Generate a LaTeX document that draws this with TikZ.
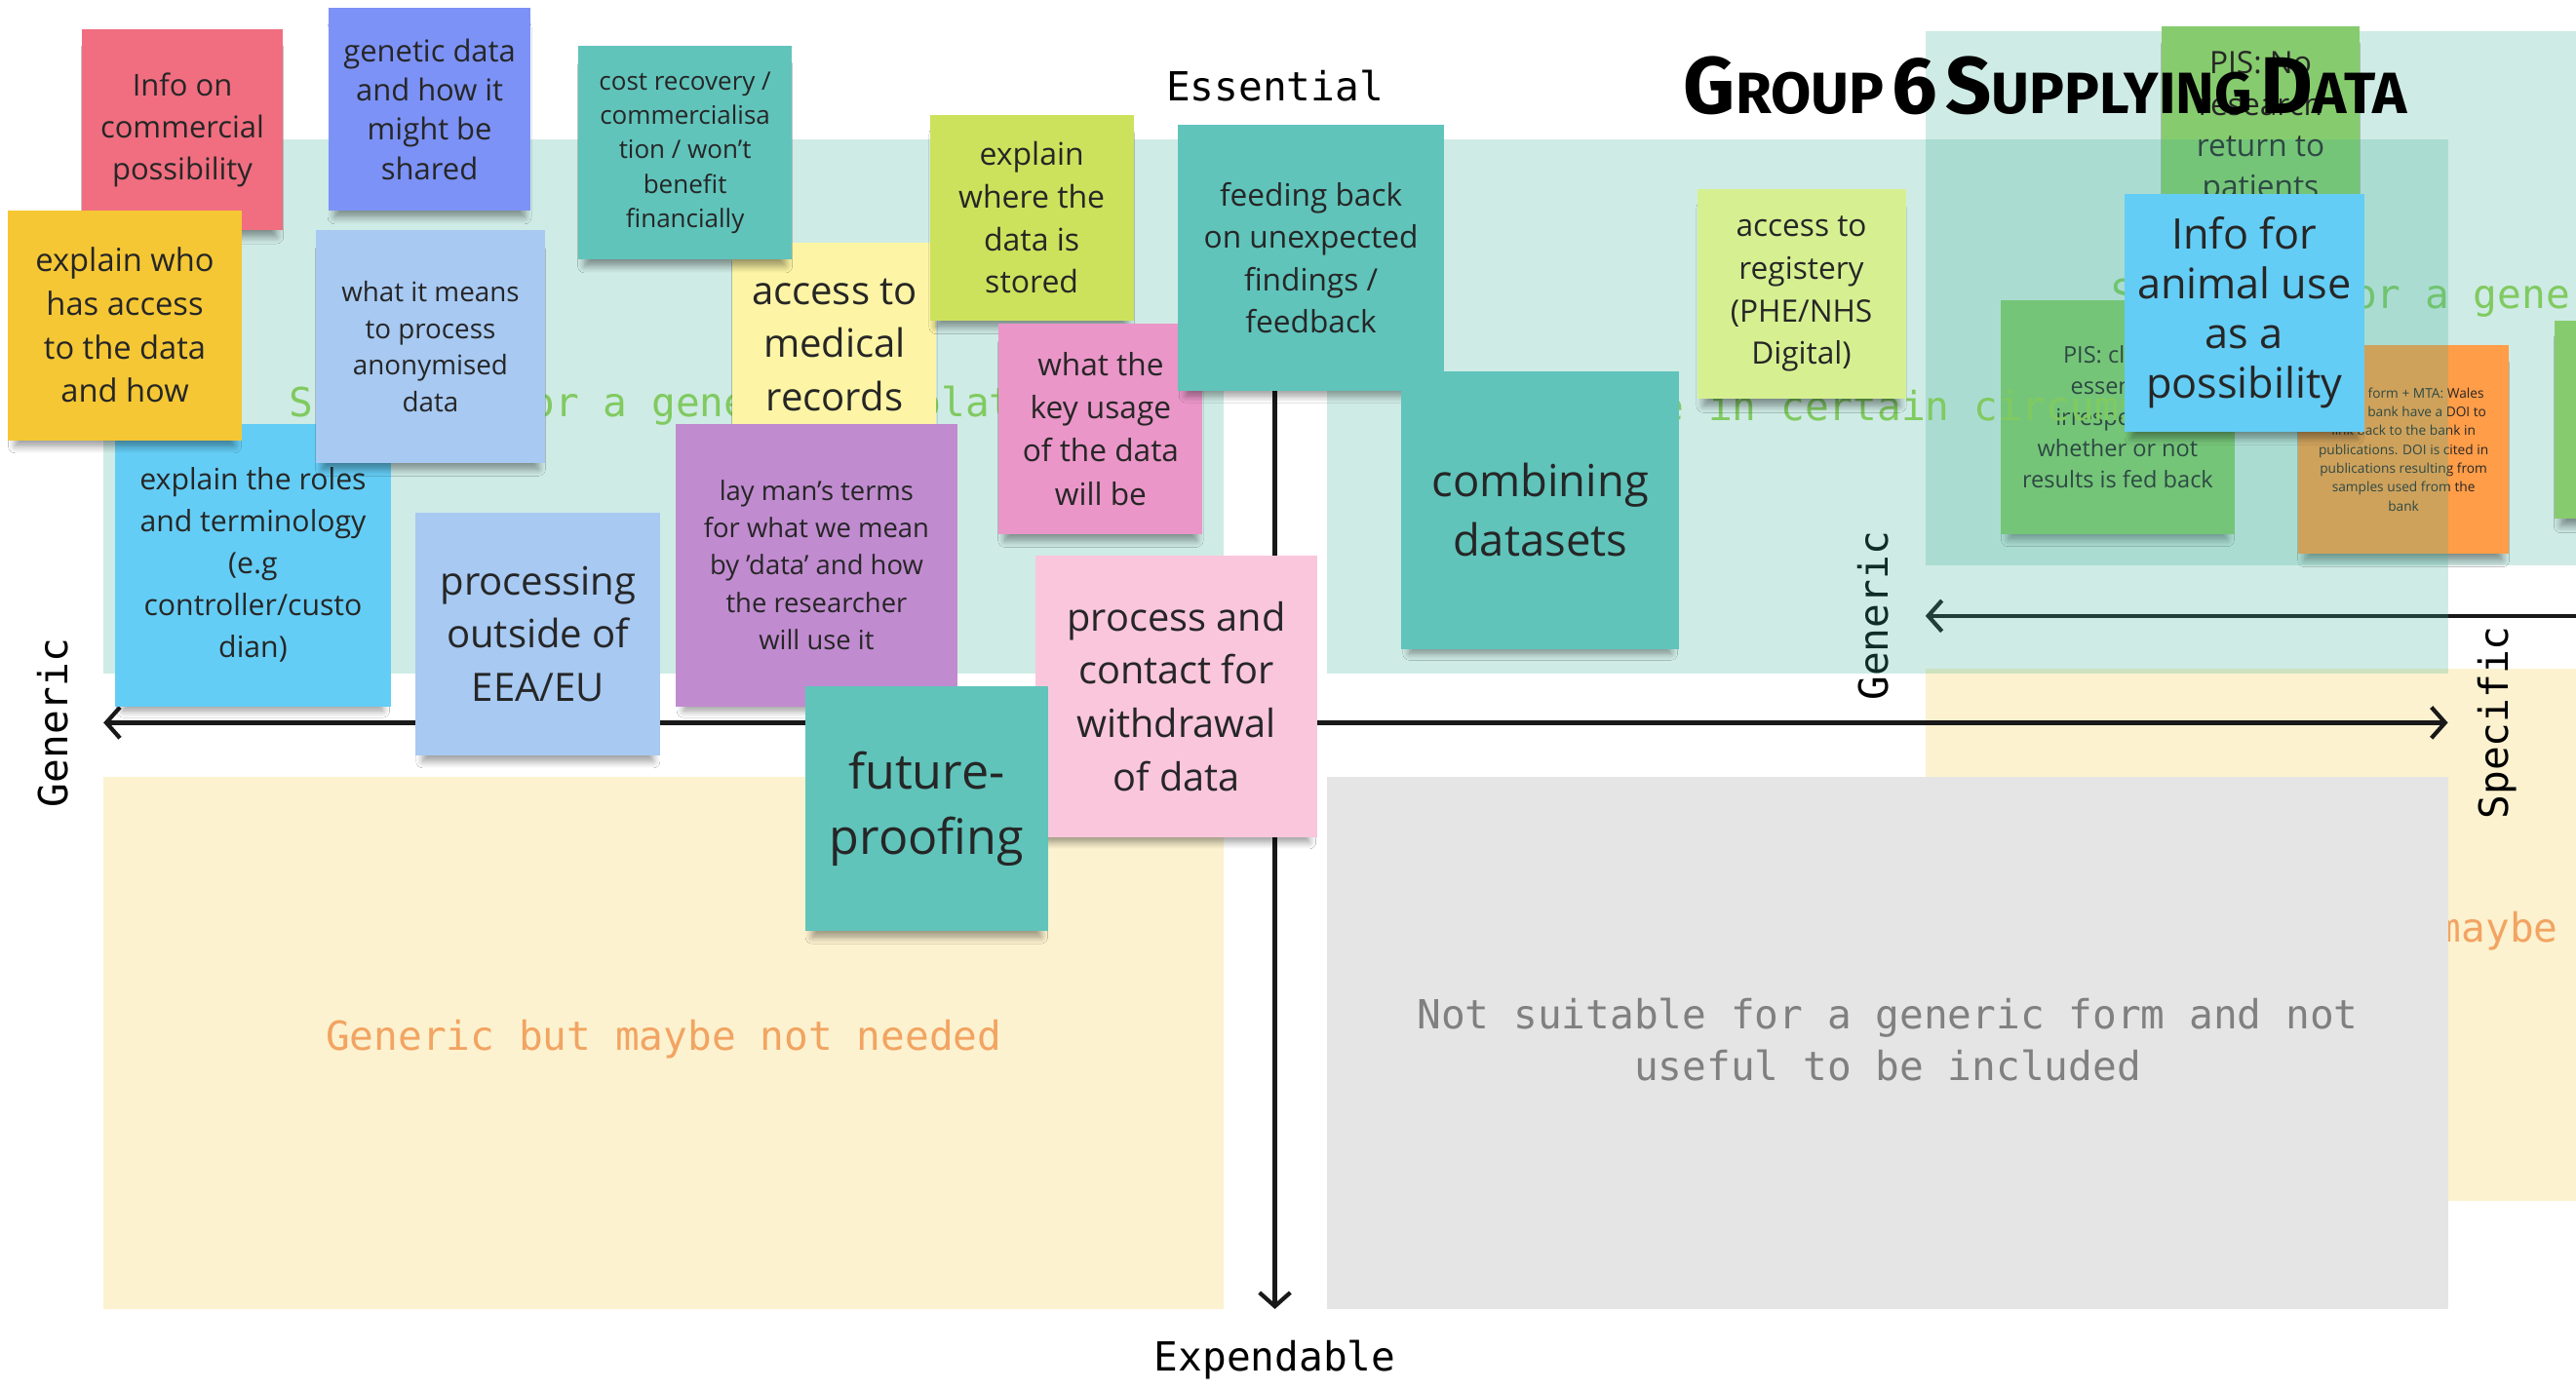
\documentclass[tikz,border=0pt]{standalone}
\usepackage{fontspec}
\setmainfont{Open Sans}
\newfontfamily\monofont{DejaVu Sans Mono}
\newfontfamily\titlefont{Fira Sans}
\usetikzlibrary{arrows.meta,shadows.blur}

\definecolor{quadteal}{RGB}{67,179,155}
\definecolor{quadyellow}{RGB}{252,242,207}
\definecolor{quadgray}{RGB}{229,229,229}
\definecolor{zonegreen}{RGB}{128,202,96}
\definecolor{zoneorange}{RGB}{242,164,98}
\definecolor{zonegray}{RGB}{128,128,128}
\definecolor{notetext}{RGB}{38,38,38}
\definecolor{notered}{RGB}{240,110,128}
\definecolor{noteviolet}{RGB}{124,146,246}
\definecolor{noteteal}{RGB}{96,196,187}
\definecolor{noteyellow}{RGB}{245,199,52}
\definecolor{notesky}{RGB}{167,201,242}
\definecolor{notecream}{RGB}{253,245,165}
\definecolor{notelime}{RGB}{205,226,92}
\definecolor{notepink}{RGB}{234,150,200}
\definecolor{notecyan}{RGB}{100,205,245}
\definecolor{notepurple}{RGB}{193,139,208}
\definecolor{notemint}{RGB}{214,240,145}
\definecolor{noteblush}{RGB}{250,198,220}
\definecolor{notegreen}{RGB}{134,204,110}
\definecolor{noteorange}{RGB}{255,157,72}

\def\px{0.4794pt}

\tikzset{
  note/.style={fill=#1, align=center, inner sep=0pt, text=notetext,
    blur shadow={shadow xshift=0pt, shadow yshift=-4pt, shadow scale=0.94,
      shadow blur steps=8, shadow opacity=40}},
  box/.style 2 args={minimum width=#1*\px, minimum height=#2*\px},
  fsize/.style 2 args={font=\fontsize{#1}{#2}\selectfont},
  quad/.style={fill=quadteal, fill opacity=0.25},
  zone/.style={font=\monofont\fontsize{11.7}{15.3}\selectfont, align=center},
  axislabel/.style={font=\monofont\fontsize{11.7}{14}\selectfont, text=black},
  axis/.style={line width=1.2pt, draw=black!90,
    {Straight Barb[length=4pt,width=9pt]}-{Straight Barb[length=4pt,width=9pt]}},
}

\begin{document}
\begin{tikzpicture}[x=0.4794pt, y=-0.4794pt]
  \useasboundingbox (0,0) rectangle (1568,846);
  \clip (0,0) rectangle (1568,846);
  \fill[white] (0,0) rectangle (1568,846);

  % board behind, shifted
  \fill[quad] (1172,19) rectangle (1854,344);
  \fill[quadyellow] (1172,407) rectangle (1854,731);
  \node[zone, text=zonegreen] (tmplB) at (1513,181) {Suitable for a generic template};
  \node[zone, text=zoneorange] (maybeB) at (1513,567) {Generic but maybe not needed};
  \coordinate (genB) at (1172,375);
  \coordinate (specB) at (2599,375);
  \draw[axis] (genB) -- (specB);
  \node[axislabel, rotate=90] (genlabB) at (1140,375) {Generic};

  \node[note=notegreen, box={120}{124}, fsize={9}{12}] (pisno) at (1376,78)
    {PIS: No\\research\\return to\\patients};
  \node[note=notegreen, box={142}{142}, fsize={6.7}{9.1}] (piscla) at (1289,254)
    {PIS: clarify\\essential\\irrespective\\whether or not\\results is fed back};
  \node[note=noteorange, box={128}{127}, fsize={3.9}{5.5}] (bank) at (1463,273.5)
    {Access form + MTA: Wales\\Cancer bank have a DOI to\\link back to the bank in\\publications. DOI is cited in\\publications resulting from\\samples used from the\\bank};
  \node[note=notegreen, box={122}{121}] (edge) at (1616,255.5) {};

  % main board
  \fill[quad] (63,85) rectangle (745,410);
  \fill[quad] (808,85) rectangle (1490,410);
  \fill[quadyellow] (63,473) rectangle (745,797);
  \fill[quadgray] (808,473) rectangle (1490,797);
  \node[zone, text=zonegreen] (tmplA) at (404,247) {Suitable for a generic template};
  \node[zone, text=zonegreen] (circA) at (1150,247) {Suitable in certain circumstances};
  \node[zone, text=zoneorange] (maybeA) at (404,633) {Generic but maybe not needed};
  \node[zone, text=zonegray] (unsuit) at (1149,633)
    {Not suitable for a generic form and not\\useful to be included};

  \coordinate (gen) at (63,440);
  \coordinate (spec) at (1490,440);
  \coordinate (ess) at (776,78);
  \coordinate (expd) at (776,797);
  \draw[axis] (gen) -- (spec);
  \draw[axis] (ess) -- (expd);
  \node[axislabel] (esslab) at (776,52) {Essential};
  \node[axislabel] (explab) at (776,828) {Expendable};
  \node[axislabel, rotate=90] (genlab) at (32,440) {Generic};
  \node[axislabel, rotate=90] (speclab) at (1520,440) {Specific};

  \node[note=notered, box={122}{122}, fsize={8.8}{12.2}] (commercial) at (111,79)
    {Info on\\commercial\\possibility};
  \node[note=noteviolet, box={123}{123}, fsize={8.8}{11.5}] (genetic) at (261.5,66.5)
    {genetic data\\and how it\\might be\\shared};
  \node[note=notecyan, box={168}{172}, fsize={8.6}{12.2}] (roles) at (154,344)
    {explain the roles\\and terminology\\(e.g\\controller/custo\\dian)};
  \node[note=noteyellow, box={142}{140}, fsize={9.3}{12.7}] (who) at (76,198)
    {explain who\\has access\\to the data\\and how};
  \node[note=notesky, box={140}{142}, fsize={7.9}{10.7}] (anonymised) at (262,211)
    {what it means\\to process\\anonymised\\data};
  \node[note=notecream, box={124}{124}, fsize={11.4}{15.5}] (medical) at (508,210)
    {access to\\medical\\records};
  \node[note=noteteal, box={130}{130}, fsize={7.4}{10}] (cost) at (417,93)
    {cost recovery /\\commercialisa\\tion / won't\\benefit\\financially};
  \node[note=notelime, box={124}{125}, fsize={9.1}{12.4}] (stored) at (628,132.5)
    {explain\\where the\\data is\\stored};
  \node[note=notepink, box={124}{128}, fsize={9}{12.6}] (usage) at (670,261)
    {what the\\key usage\\of the data\\will be};
  \node[note=noteteal, box={162}{162}, fsize={9}{12.4}] (feeding) at (798,157)
    {feeding back\\on unexpected\\findings /\\feedback};
  \node[note=notepurple, box={172}{172}, fsize={7.8}{10.9}] (layman) at (497,344)
    {lay man's terms\\for what we mean\\by 'data' and how\\the researcher\\will use it};
  \node[note=notesky, box={149}{148}, fsize={11.4}{15.5}] (eea) at (327.5,386)
    {processing\\outside of\\EEA/EU};
  \node[note=noteblush, box={172}{172}, fsize={11.3}{15.6}] (withdrawal) at (716,424)
    {process and\\contact for\\withdrawal\\of data};
  \node[note=noteteal, box={148}{149}, fsize={14.3}{19.1}] (future) at (564,492.5)
    {future-\\proofing};
  \node[note=noteteal, box={169}{169}, fsize={12.9}{17.2}] (combining) at (937.5,310.5)
    {combining\\datasets};
  \node[note=notemint, box={127}{128}, fsize={9}{12.4}] (registery) at (1096.5,179)
    {access to\\registery\\(PHE/NHS\\Digital)};
  \node[note=notecyan, box={146}{145}, fsize={12.3}{14.5}] (animal) at (1366,190.5)
    {Info for\\animal use\\as a\\possibility};

  \node[font=\titlefont\bfseries, text=black] (title) at (1245,52)
    {{\fontsize{23.5}{23.5}\selectfont G}{\fontsize{17}{17}\selectfont ROUP}
     {\fontsize{23.5}{23.5}\selectfont 6}
     {\fontsize{23.5}{23.5}\selectfont S}{\fontsize{17}{17}\selectfont UPPLYING}
     {\fontsize{23.5}{23.5}\selectfont D}{\fontsize{17}{17}\selectfont ATA}};
\end{tikzpicture}
\end{document}
